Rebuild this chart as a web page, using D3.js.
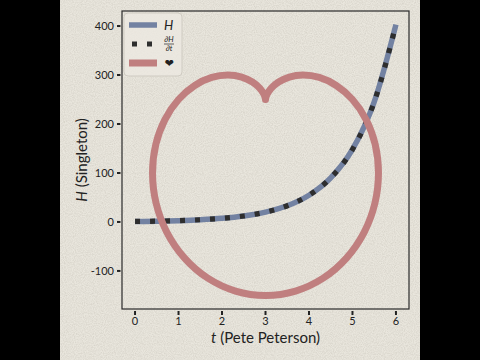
<!DOCTYPE html>
<html><head><meta charset="utf-8">
<script src="https://cdn.jsdelivr.net/npm/d3@7"></script>
<style>
html,body{margin:0;padding:0;background:#000;}
svg{display:block;}
text{font-family:Lato,"Open Sans",sans-serif;fill:#222;}
</style></head>
<body>
<svg id="chart" width="480" height="360"></svg>
<script>
// ---- data ----
const tValues = [0, 0.5, 1, 1.5, 2, 2.5, 3, 3.5, 4, 4.5, 5, 5.5, 6];
const hValues = [1, 1.6, 2.7, 4.5, 7.4, 12.2, 20.1, 33.1, 54.6, 90, 148, 245, 403];
const dhdtValues = [1, 1.6, 2.7, 4.5, 7.4, 12.2, 20.1, 33.1, 54.6, 90, 148, 245, 403];
const heartT = [3, 2.995, 2.959, 2.866, 2.699, 2.453, 2.134, 1.763, 1.373, 1.0, 0.687, 0.477, 0.402, 0.483, 0.729, 1.134, 1.673, 2.309, 3,
                3.691, 4.327, 4.866, 5.271, 5.517, 5.598, 5.523, 5.313, 5.0, 4.627, 4.237, 3.866, 3.547, 3.301, 3.134, 3.041, 3.005, 3];
const heartH = [250, 253, 261.3, 273.2, 285.8, 295.9, 300, 295, 278.7, 250, 209.1, 158.2, 100, 38.7, -20.6, -73.2, -114.7, -141, -150,
                -141, -114.7, -73.2, -20.6, 38.7, 100, 158.2, 209.1, 250, 278.7, 295, 300, 295.9, 285.8, 273.2, 261.3, 253, 250];
const xTicks = [0, 1, 2, 3, 4, 5, 6];
const yTicks = [-100, 0, 100, 200, 300, 400];

const svg = d3.select("#chart");
const defs = svg.append("defs");
const f = defs.append("filter").attr("id","paper").attr("x",0).attr("y",0).attr("width","100%").attr("height","100%");
f.append("feTurbulence").attr("type","fractalNoise").attr("baseFrequency",0.9).attr("numOctaves",2).attr("seed",3).attr("result","n");
f.append("feColorMatrix").attr("in","n").attr("type","matrix")
  .attr("values","0 0 0 0 0.45  0 0 0 0 0.42  0 0 0 0 0.36  0 0 0 -1.1 0.75").attr("result","c");
f.append("feComposite").attr("in","c").attr("in2","SourceGraphic").attr("operator","over");

// paper
svg.append("rect").attr("x",60).attr("y",0).attr("width",360).attr("height",360).attr("fill","#e9e6dd");
svg.append("rect").attr("x",60).attr("y",0).attr("width",360).attr("height",360).attr("fill","#e9e6dd").attr("filter","url(#paper)").attr("opacity",0.55);

const L = 122, R = 409, T = 11, B = 309;
const x = d3.scaleLinear().domain([-0.3, 6.3]).range([L, R]);
const y = d3.scaleLinear().domain([-177.7, 430.7]).range([B, T]);

// frame
svg.append("rect").attr("x",L).attr("y",T).attr("width",R-L).attr("height",B-T)
  .attr("fill","none").attr("stroke","#2a2a2a").attr("stroke-width",1.2);

// ticks
const gx = svg.append("g");
xTicks.forEach(t => {
  gx.append("line").attr("x1",x(t)).attr("x2",x(t)).attr("y1",B+2).attr("y2",B+6).attr("stroke","#222").attr("stroke-width",2);
  gx.append("text").attr("x",x(t)).attr("y",B+16).attr("text-anchor","middle").attr("font-size",11).text(t);
});
const gy = svg.append("g");
yTicks.forEach(v => {
  gy.append("line").attr("x1",L-5).attr("x2",L-1.5).attr("y1",y(v)).attr("y2",y(v)).attr("stroke","#222").attr("stroke-width",2);
  gy.append("text").attr("x",L-8).attr("y",y(v)).attr("dy","0.35em").attr("text-anchor","end").attr("font-size",11).text(v);
});

// axis labels
const xl = svg.append("text").attr("x",(L+R)/2).attr("y",343).attr("text-anchor","middle").attr("font-size",15);
xl.append("tspan").attr("font-style","italic").text("t");
xl.append("tspan").text(" (Pete Peterson)");
const yl = svg.append("text").attr("transform",`translate(87,${(T+B)/2}) rotate(-90)`).attr("text-anchor","middle").attr("font-size",15);
yl.append("tspan").attr("font-style","italic").text("H");
yl.append("tspan").text(" (Singleton)");

// lines
const hData = tValues.map((t,i)=>[t,hValues[i]]);
const dData = tValues.map((t,i)=>[t,dhdtValues[i]]);
const heart = heartT.map((t,i)=>[t,heartH[i]]);
const line = d3.line().x(d=>x(d[0])).y(d=>y(d[1])).curve(d3.curveMonotoneX);
const hline = d3.line().x(d=>x(d[0])).y(d=>y(d[1])).curve(d3.curveCatmullRom.alpha(0.5));

svg.append("path").attr("d",line(hData)).attr("fill","none").attr("stroke","#7382a2").attr("stroke-width",5.5);
svg.append("path").attr("d",line(dData)).attr("fill","none").attr("stroke","#2e2e2e").attr("stroke-width",5.2).attr("stroke-dasharray","5,10");
svg.append("path").attr("d",hline(heart)).attr("fill","none").attr("stroke","#c07f7f").attr("stroke-width",7)
  .attr("stroke-linejoin","round").attr("stroke-linecap","round");

// legend
const lg = svg.append("g");
lg.append("rect").attr("x",124).attr("y",13).attr("width",58).attr("height",63).attr("rx",4)
  .attr("fill","#ece9e1").attr("fill-opacity",0.8).attr("stroke","#cfcbc2").attr("stroke-width",1);
lg.append("line").attr("x1",129).attr("x2",157).attr("y1",25).attr("y2",25).attr("stroke","#7382a2").attr("stroke-width",5.5);
lg.append("text").attr("x",164).attr("y",29.5).attr("font-size",13).attr("font-style","italic").text("H");
lg.append("line").attr("x1",132).attr("x2",157).attr("y1",44).attr("y2",44).attr("stroke","#2e2e2e").attr("stroke-width",5.2).attr("stroke-dasharray","5,10");
lg.append("text").attr("x",169).attr("y",42).attr("font-size",7.5).attr("font-style","italic").attr("text-anchor","middle").text("∂H");
lg.append("line").attr("x1",164).attr("x2",174).attr("y1",44).attr("y2",44).attr("stroke","#222").attr("stroke-width",0.7);
lg.append("text").attr("x",169).attr("y",51).attr("font-size",7.5).attr("font-style","italic").attr("text-anchor","middle").text("∂t");
lg.append("line").attr("x1",129).attr("x2",157).attr("y1",63).attr("y2",63).attr("stroke","#c07f7f").attr("stroke-width",7);
lg.append("text").attr("x",169).attr("y",67).attr("font-size",11).attr("text-anchor","middle").style("font-family","'DejaVu Sans'").text("❤");
</script>
</body></html>
